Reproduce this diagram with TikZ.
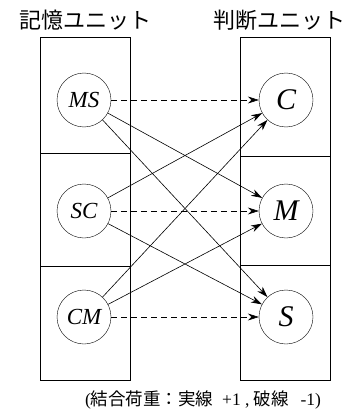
\documentclass[tikz,border=0pt]{standalone}
\usepackage{fontspec}
\setmainfont{Liberation Serif}
\newfontfamily\jp{Noto Sans CJK JP}
\usetikzlibrary{arrows.meta}
\begin{document}
\begin{tikzpicture}[x=1pt,y=-1pt,
  unit/.style={draw, circle, minimum size=54pt, inner sep=0pt, font=\itshape\fontsize{23}{23}\selectfont},
  unitb/.style={draw, circle, minimum size=54pt, inner sep=0pt, font=\itshape\fontsize{30}{30}\selectfont},
  box/.style={draw, line width=0.6pt},
  poslink/.style={-{Stealth[length=11pt,width=7pt]}, line width=0.6pt},
  neglink/.style={poslink, dash pattern=on 6pt off 4pt},
  title/.style={font=\jp\fontsize{22}{22}\selectfont},
  captext/.style={font=\fontsize{17.5}{17.5}\selectfont, inner sep=0pt, anchor=base}]
\useasboundingbox (0,0) rectangle (352,409);
% boxes
\draw[box] (40,37) rectangle (130.5,380.5);
\draw[box] (40,153) -- (130.5,153);
\draw[box] (40,266) -- (130.5,266);
\draw[box] (240,37) rectangle (330.5,380.5);
\draw[box] (240,156) -- (330.5,156);
\draw[box] (240,265) -- (330.5,265);
% titles
\node[title] (t1) at (85,20) {記憶ユニット};
\node[title] (t2) at (279,20) {判断ユニット};
% units
\node[unit, fill=white] (MS) at (84,100) {MS};
\node[unit, fill=white] (SC) at (84,211) {SC};
\node[unit, fill=white] (CM) at (84,317) {CM};
\node[unitb, fill=white] (C) at (286,100) {C};
\node[unitb, fill=white] (M) at (286,211) {M};
\node[unitb, fill=white] (S) at (286,317) {S};
% connections
\draw[neglink] (MS) -- (C);
\draw[poslink] (MS) -- (M);
\draw[poslink] (MS) -- (S);
\draw[poslink] (SC) -- (C);
\draw[neglink] (SC) -- (M);
\draw[poslink] (SC) -- (S);
\draw[poslink] (CM) -- (C);
\draw[poslink] (CM) -- (M);
\draw[neglink] (CM) -- (S);
% caption
\node[captext] (capt) at (203,405) {({\jp 結合荷重：実線}~~+1~,~{\jp 破線}~~\,-1)};
\end{tikzpicture}
\end{document}
